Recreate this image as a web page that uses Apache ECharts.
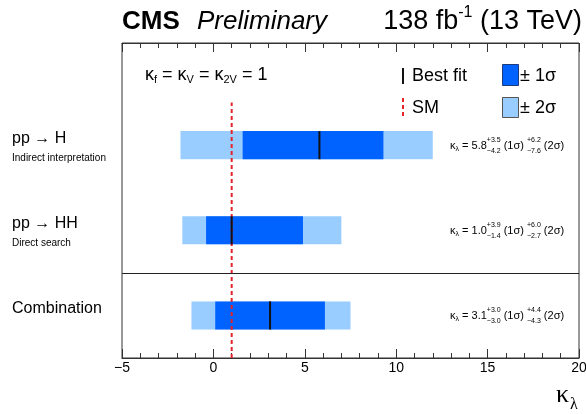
<!DOCTYPE html>
<html>
<head>
<meta charset="utf-8">
<script src="https://cdn.jsdelivr.net/npm/echarts@6/dist/echarts.min.js"></script>
<style>html,body{margin:0;padding:0;background:#fff}#c{width:586px;height:414px}</style>
</head>
<body>
<div id="c"></div>
<script>
// ---- data ----
const categories = ['pp \u2192 H', 'pp \u2192 HH', 'Combination'];
const subtitles = ['Indirect interpretation', 'Direct search', ''];
const rowPos = [2.5, 1.5, 0.5];
const bestFit = [5.8, 1.0, 3.1];
const err1Up = [3.5, 3.9, 3.0];
const err1Down = [4.2, 1.4, 3.0];
const err2Up = [6.2, 6.0, 4.4];
const err2Down = [7.6, 2.7, 4.3];
const smValue = 1.0;
const separatorPos = 1.0;
const xTicks = [-5, 0, 5, 10, 15, 20];

// ---- helpers ----
const SANS = '"Liberation Sans", Arial, sans-serif';
const SERIF = '"Liberation Serif", "Times New Roman", serif';
const mctx = document.createElement('canvas').getContext('2d');
function F(size, extra, fam) { return ((extra || '') + ' ' + size + 'px ' + (fam || SANS)).trim(); }
function T(text, x, y, font, fill) {
  return { type: 'text', x: x, y: y, silent: true,
    style: { text: text, font: font, fill: fill || '#000', textAlign: 'left', align: 'left',
      textVerticalAlign: 'middle', verticalAlign: 'middle' } };
}
function layoutRun(pieces, x0, yc) {
  const els = []; let x = x0;
  for (const p of pieces) {
    const font = F(p.size, p.extra, p.fam);
    mctx.font = font;
    if (p.stack) {
      const w = Math.max(mctx.measureText(p.stack[0]).width, mctx.measureText(p.stack[1]).width);
      els.push(T(p.stack[0], x, yc + p.dy[0], font));
      els.push(T(p.stack[1], x, yc + p.dy[1], font));
      x += w;
    } else {
      els.push(T(p.t, x, yc + (p.dy || 0), font, p.fill));
      x += mctx.measureText(p.t).width;
    }
  }
  return { els: els, width: x - x0 };
}
function measureRun(pieces) { return layoutRun(pieces, 0, 0).width; }
const fmt = v => v.toFixed(1).replace('-', '\u2212');

const BLUE1 = '#0062ff';
const BLUE2 = '#99ccff';
const RED = '#e3242b';
const H = 0.165;

const barData = categories.map((c, i) => [
  bestFit[i], rowPos[i],
  bestFit[i] - err2Down[i], bestFit[i] + err2Up[i],
  bestFit[i] - err1Down[i], bestFit[i] + err1Up[i], i
]);

function rectFrom(api, x1, x2, y) {
  const a = api.coord([x1, y + H]);
  const b = api.coord([x2, y - H]);
  return { x: a[0], y: a[1], width: b[0] - a[0], height: b[1] - a[1] };
}

// ---- header graphics ----
const graphics = [];
graphics.push(T('CMS', 122, 22, F(26, 'bold')));
graphics.push(T('Preliminary', 197, 22, F(26, 'italic')));
const lumiPieces = [
  { t: '138 fb', size: 27 },
  { t: '-1', size: 16, dy: -9 },
  { t: ' (13 TeV)', size: 27 }
];
const lumiW = measureRun(lumiPieces);
graphics.push(...layoutRun(lumiPieces, 582 - lumiW, 22).els);

const kPieces = [
  { t: '\u03ba', size: 18 }, { t: 'f', size: 11, dy: 5 },
  { t: ' = \u03ba', size: 18 }, { t: 'V', size: 11, dy: 5 },
  { t: ' = \u03ba', size: 18 }, { t: '2V', size: 11, dy: 5 },
  { t: ' = 1', size: 18 }
];
graphics.push(...layoutRun(kPieces, 145, 75).els);

// legend
graphics.push({ type: 'line', silent: true, shape: { x1: 403, y1: 68, x2: 403, y2: 84 }, style: { stroke: '#111', lineWidth: 2 } });
graphics.push(T('Best fit', 412, 76, F(18)));
graphics.push({ type: 'line', silent: true, shape: { x1: 403, y1: 98, x2: 403, y2: 117 }, style: { stroke: RED, lineWidth: 2, lineDash: [4, 3] } });
graphics.push(T('SM', 412, 108, F(18)));
graphics.push({ type: 'rect', silent: true, shape: { x: 502.5, y: 64.5, width: 16, height: 21 }, style: { fill: BLUE1, stroke: '#213a7a', lineWidth: 1 } });
graphics.push(T('\u00b1 1\u03c3', 520, 76, F(18)));
graphics.push({ type: 'rect', silent: true, shape: { x: 502.5, y: 97.5, width: 16, height: 20 }, style: { fill: BLUE2, stroke: '#555', lineWidth: 1 } });
graphics.push(T('\u00b1 2\u03c3', 520, 108, F(18)));

// axis title
graphics.push(T('\u03ba', 556, 395, F(26, '', SERIF)));
graphics.push(T('\u03bb', 570, 405, F(16, '', SERIF)));

const chart = echarts.init(document.getElementById('c'), null, { renderer: 'canvas' });
const axisCommon = {
  type: 'value', min: -5, max: 20, interval: 5,
  axisLine: { show: true, lineStyle: { color: '#333', width: 1 } },
  axisTick: { show: true, inside: true, length: 9, lineStyle: { color: '#333', width: 1 } },
  minorTick: { show: true, splitNumber: 5, length: 5, lineStyle: { color: '#333', width: 1 } },
  splitLine: { show: false }
};
chart.setOption({
  animation: false,
  grid: { left: 122, right: 7, top: 43, bottom: 56, containLabel: false, outerBoundsMode: 'none',
    show: true, borderColor: '#333', borderWidth: 1, backgroundColor: 'transparent' },
  xAxis: [
    Object.assign({}, axisCommon, {
      position: 'bottom',
      axisLabel: { show: true, fontSize: 14, color: '#000', margin: 3, fontFamily: SANS,
        formatter: v => (xTicks.indexOf(v) >= 0 ? String(v).replace('-', '\u2212') : '') }
    }),
    Object.assign({}, axisCommon, { position: 'top', axisLabel: { show: false } })
  ],
  yAxis: { type: 'value', min: 0, max: 3.7, show: false },
  graphic: { elements: graphics },
  series: [
    {
      type: 'custom', name: 'bands', xAxisIndex: 0, z: 2, clip: false,
      data: barData,
      encode: { x: [0, 2, 3, 4, 5], y: 1 },
      renderItem: function (params, api) {
        const y = api.value(1);
        const i = api.value(6);
        const children = [
          { type: 'rect', shape: rectFrom(api, api.value(2), api.value(3), y), style: { fill: BLUE2 } },
          { type: 'rect', shape: rectFrom(api, api.value(4), api.value(5), y), style: { fill: BLUE1 } }
        ];
        const yc = api.coord([0, y])[1];
        children.push(T(categories[i], 12, yc - 6.5, F(16)));
        if (subtitles[i]) children.push(T(subtitles[i], 12, yc + 13, F(10)));
        const ann = [
          { t: '\u03ba', size: 11 }, { t: '\u03bb', size: 7, dy: 3 },
          { t: ' = ' + fmt(bestFit[i]), size: 11 },
          { stack: ['+' + fmt(err1Up[i]), '\u2212' + fmt(err1Down[i])], size: 7, dy: [-6, 5] },
          { t: ' (1\u03c3) ', size: 11 },
          { stack: ['+' + fmt(err2Up[i]), '\u2212' + fmt(err2Down[i])], size: 7, dy: [-6, 5] },
          { t: ' (2\u03c3)', size: 11 }
        ];
        children.push(...layoutRun(ann, 450, yc + 1).els);
        return { type: 'group', children: children };
      },
      markLine: {
        silent: true, symbol: ['none', 'none'], label: { show: false },
        lineStyle: { color: '#222', width: 1, type: 'solid' },
        data: [{ yAxis: separatorPos }]
      }
    },
    {
      type: 'custom', name: 'SM', z: 3, clip: false,
      data: [[smValue, 0, 3.0]],
      encode: { x: 0, y: [1, 2] },
      renderItem: function (params, api) {
        const a = api.coord([api.value(0), api.value(1)]);
        const b = api.coord([api.value(0), api.value(2)]);
        return { type: 'line', shape: { x1: a[0], y1: a[1], x2: b[0], y2: b[1] },
          style: { stroke: RED, lineWidth: 2, lineDash: [4, 3] } };
      }
    },
    {
      type: 'custom', name: 'Best fit', z: 4, clip: false,
      data: barData.map(d => [d[0], d[1]]),
      encode: { x: 0, y: 1 },
      renderItem: function (params, api) {
        const a = api.coord([api.value(0), api.value(1) + H]);
        const b = api.coord([api.value(0), api.value(1) - H]);
        return { type: 'line', shape: { x1: a[0], y1: a[1], x2: b[0], y2: b[1] },
          style: { stroke: '#111', lineWidth: 2 } };
      }
    }
  ]
});
</script>
</body>
</html>
